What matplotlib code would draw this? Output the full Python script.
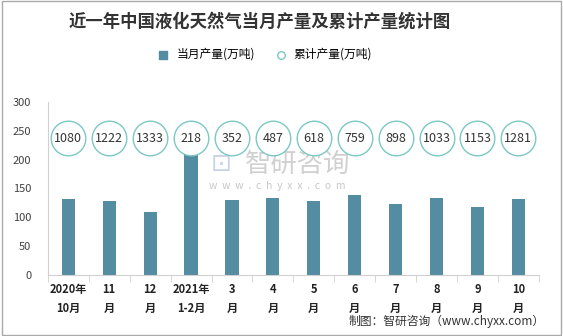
import matplotlib.pyplot as plt
import numpy as np

plt.rcParams['font.family'] = ['Noto Sans CJK SC', 'DejaVu Sans']

# data
months = ["2020年\n10月", "11\n月", "12\n月", "2021年\n1-2月", "3\n月", "4\n月",
          "5\n月", "6\n月", "7\n月", "8\n月", "9\n月", "10\n月"]
monthly = [131, 128, 110, 218, 130, 133, 128, 139, 123, 133, 117, 131]
cumulative = [1080, 1222, 1333, 218, 352, 487, 618, 759, 898, 1033, 1153, 1281]

bar_color = '#548CA1'
ring_color = '#7CC8C2'
ring_level = 237  # height at which the cumulative circles sit

fig = plt.figure(figsize=(5.63, 3.36), dpi=100)
ax = fig.add_axes([0.085, 0.182, 0.872, 0.514])

# watermark behind the marks
ax.text(0.435, 0.512, '智研咨询', transform=fig.transFigure, ha='left', va='center',
        fontsize=19, color='#D0D0D0', zorder=1)
ax.text(0.375, 0.512, '⊡', transform=fig.transFigure, ha='left', va='center',
        fontsize=18, color='#C8D4E4', zorder=1, family='DejaVu Sans')
ax.text(0.372, 0.447, 'w  w  w  .  c  h  y  x  x  .  c  o  m', transform=fig.transFigure,
        ha='left', va='center', fontsize=7.5, color='#C8C8C8', zorder=1)

x = np.arange(len(months))
ax.bar(x, monthly, width=0.32, color=bar_color, zorder=2)
ax.scatter(x, [ring_level] * len(x), s=620, facecolor='white', edgecolor=ring_color,
           linewidth=1.0, zorder=3)
for xi, v in zip(x, cumulative):
    ax.text(xi, ring_level, str(v), ha='center', va='center', fontsize=9,
            color='#333333', zorder=4)

ax.set_xlim(-0.5, len(months) - 0.5)
ax.set_ylim(0, 300)
ax.set_yticks(range(0, 301, 50))
ax.tick_params(axis='y', length=0, labelsize=8, colors='#404040', pad=12)
ax.set_xticks(x)
ax.set_xticklabels(months, fontsize=8, fontweight='bold', color='#222222',
                   linespacing=1.6)
ax.set_xticks(np.arange(-0.5, len(months), 1), minor=True)
ax.tick_params(axis='x', which='major', length=0, pad=6)
ax.tick_params(axis='x', which='minor', length=5, color='#D0D0D0')
for s in ['top', 'right']:
    ax.spines[s].set_visible(False)
ax.spines['left'].set_color('#D0D0D0')
ax.spines['bottom'].set_color('#D0D0D0')

# title and legend
fig.text(0.462, 0.935, '近一年中国液化天然气当月产量及累计产量统计图', ha='center',
         va='center', fontsize=12.5, fontweight='bold', color='#333333')
hb = ax.scatter([], [], marker='s', s=30, color=bar_color)
hc = ax.scatter([], [], marker='o', s=30, facecolor='white', edgecolor=ring_color)
fig.legend([hb, hc], ['当月产量(万吨)', '累计产量(万吨)'], loc='center',
           bbox_to_anchor=(0.465, 0.838), ncol=2, frameon=False, fontsize=8.5,
           handletextpad=0.1, columnspacing=1.2, borderaxespad=0)

# footer and frame
fig.text(0.968, 0.042, '制图：智研咨询（www.chyxx.com）', ha='right', va='center',
         fontsize=8.5, color='#333333')
fig.patches.append(plt.Rectangle((0.003, 0.003), 0.994, 0.994, transform=fig.transFigure,
                                 fill=False, edgecolor='#AAAAAA', linewidth=1))

fig.savefig('out.png', dpi=100)
